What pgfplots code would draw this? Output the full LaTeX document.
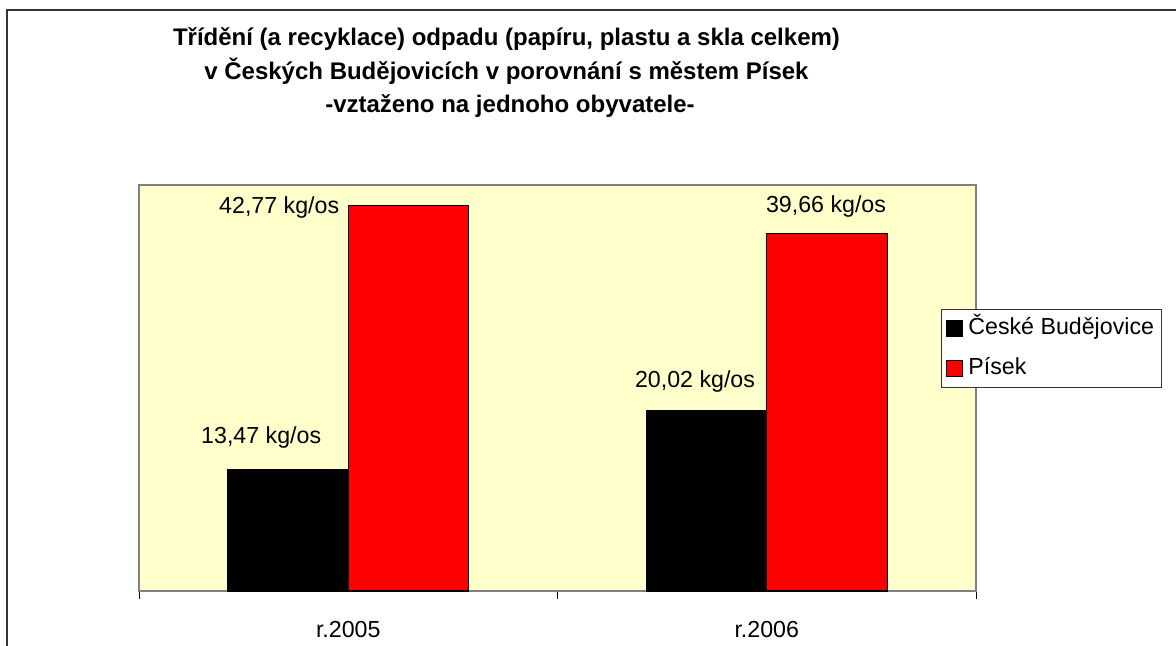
\documentclass[border=0pt]{standalone}
\usepackage{fontspec}
\setmainfont{Liberation Sans}
\usepackage{pgfplots}
\pgfplotsset{compat=1.18}
\definecolor{plotbg}{RGB}{255,255,204}
\definecolor{framegray}{RGB}{51,51,51}
\definecolor{boxgray}{RGB}{128,128,128}
\newcommand{\lblfont}{\fontsize{11.6}{13}\selectfont}
\begin{document}
\begin{tikzpicture}[x=1pt,y=1pt]
\useasboundingbox (0,0) rectangle (588,322.5);
\fill[white] (0,0) rectangle (588,322.5);
% outer chart frame (cut off at right and bottom)
\draw[framegray, line width=1pt] (3.5,-2) -- (3.5,317.5) -- (590,317.5);
% title
\node[font=\fontsize{12}{14}\selectfont\bfseries, anchor=base] at (253.25,300)
  {Třídění (a recyklace) odpadu (papíru, plastu a skla celkem)};
\node[font=\fontsize{12}{14}\selectfont\bfseries, anchor=base] at (253.25,283)
  {v Českých Budějovicích v porovnání s městem Písek};
\node[font=\fontsize{12}{14}\selectfont\bfseries, anchor=base] at (255,266.5)
  {-vztaženo na jednoho obyvatele-};
\begin{axis}[
  at={(69.5pt,27pt)}, anchor=south west,
  scale only axis, width=418.5pt, height=203pt,
  xmin=-0.5, xmax=1.5, ymin=0, ymax=45,
  enlargelimits=false,
  axis background/.style={fill=plotbg},
  axis line style={boxgray, line width=0.6pt},
  ytick=\empty,
  xtick={0,1}, xticklabels={r.2005,r.2006},
  major tick length=0pt,
  minor xtick={-0.5,0.5,1.5}, minor tick length=4pt,
  minor x tick style={black, line width=0.5pt},
  tick align=outside, xtick pos=bottom,
  xticklabel style={font=\lblfont, anchor=base, yshift=-23pt},
  legend style={at={(0.958,0.6946)}, anchor=north west, draw=framegray,
    fill=white, font=\lblfont, line width=0.5pt,
    inner xsep=2.5pt, inner ysep=3pt, row sep=7pt,
    nodes={inner sep=1pt, text height=8.5pt, text depth=2.5pt},
    cells={anchor=west},
    /tikz/every odd column/.append style={column sep=1.5pt}},
  legend image code/.code={\draw[#1, draw=black, line width=0.5pt] (0pt,-4pt) rectangle (8pt,4pt);},
]
\addplot[ybar, bar width=0.288, bar shift=-0.144, fill=black, draw=black, line width=0.6pt]
  coordinates {(0,13.47) (1,20.02)};
\addlegendentry{České Budějovice}
\addplot[ybar, bar width=0.288, bar shift=0.144, fill=red, draw=black, line width=0.6pt]
  coordinates {(0,42.77) (1,39.66)};
\addlegendentry{Písek}
\node[font=\lblfont, anchor=base] at (axis cs:-0.165,41.8) {42,77 kg/os};
\node[font=\lblfont, anchor=base] at (axis cs:-0.208,16.4) {13,47 kg/os};
\node[font=\lblfont, anchor=base] at (axis cs:0.8286,22.6) {20,02 kg/os};
\node[font=\lblfont, anchor=base] at (axis cs:1.1416,42.0) {39,66 kg/os};
\end{axis}
\end{tikzpicture}
\end{document}
